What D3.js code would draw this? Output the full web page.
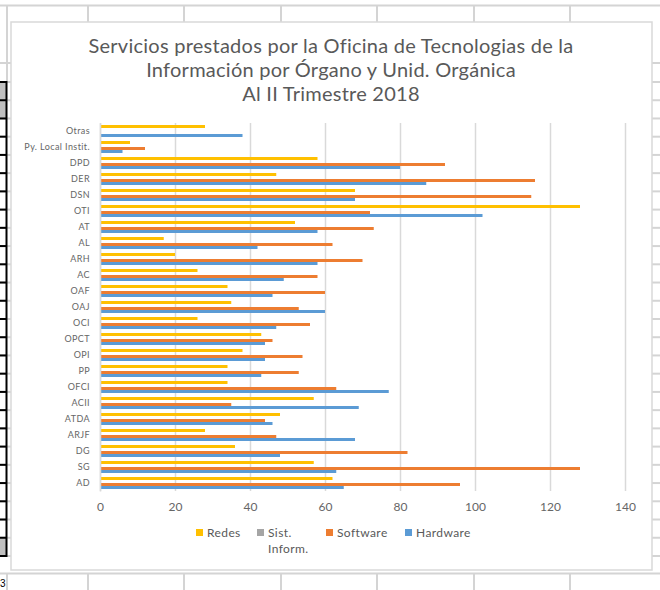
<!doctype html>
<html>
  <head>
    <meta charset="utf-8">
    <script src="https://d3js.org/d3.v7.min.js"></script>
    <style>
      body { margin: 0; background: #fff; }
      text { font-family: Lato, "Open Sans", sans-serif; }
    </style>
  </head>
  <body>
    <div id="graphic"></div>
    <script>

// Data (top to bottom as in the picture)
  var categories = ["Otras", "Py. Local Instit.", "DPD", "DER", "DSN", "OTI", "AT", "AL", "ARH", "AC",
                    "OAF", "OAJ", "OCI", "OPCT", "OPI", "PP", "OFCI", "ACII", "ATDA", "ARJF", "DG", "SG", "AD"];
  var redes    = [28, 8, 58, 47, 68, 128, 52, 17, 20, 26, 34, 35, 26, 43, 38, 34, 34, 57, 48, 28, 36, 57, 62];
  var sistInf  = [0, 0, 0, 0, 0, 0, 0, 0, 0, 0, 0, 0, 0, 0, 0, 0, 0, 0, 0, 0, 0, 0, 0];
  var software = [0, 12, 92, 116, 115, 72, 73, 62, 70, 58, 60, 53, 56, 46, 54, 53, 63, 35, 44, 47, 82, 128, 96];
  var hardware = [38, 6, 80, 87, 68, 102, 58, 42, 58, 49, 46, 60, 47, 44, 44, 43, 77, 69, 46, 68, 48, 63, 65];
  var seriesNames = ["Redes", "Sist. Inform.", "Software", "Hardware"];
  var seriesColors = ["#FFC000", "#A5A5A5", "#ED7D31", "#5B9BD5"];
  var xTicks = [0, 20, 40, 60, 80, 100, 120, 140];

  var seriesValues = [redes, sistInf, software, hardware];

  var W = 660, H = 590;
  var svg = d3.select("#graphic").append("svg")
    .attr("width", W)
    .attr("height", H);

  svg.append("rect").attr("width", W).attr("height", H).attr("fill", "#fff");

// Spreadsheet behind the chart
  var grid = "#d4d4d4";
  var rowYs = d3.range(27).map(i => 82 + i * 18.23);
  var colXs = [7, 88, 184, 281, 377, 474, 570];

  svg.append("line").attr("x1", 0).attr("x2", W).attr("y1", 5.5).attr("y2", 5.5)
    .attr("stroke", grid).attr("stroke-width", 2);
  svg.append("line").attr("x1", 0).attr("x2", W).attr("y1", 573.5).attr("y2", 573.5)
    .attr("stroke", grid).attr("stroke-width", 2);
  colXs.forEach(function(x) {
    svg.append("line").attr("x1", x).attr("x2", x).attr("y1", 5).attr("y2", 22)
      .attr("stroke", grid).attr("stroke-width", 2);
    svg.append("line").attr("x1", x).attr("x2", x).attr("y1", 573).attr("y2", H)
      .attr("stroke", grid).attr("stroke-width", 2);
  });
  svg.append("line").attr("x1", 7).attr("x2", 7).attr("y1", 5).attr("y2", 82)
    .attr("stroke", grid).attr("stroke-width", 2);

  [63].concat(rowYs).forEach(function(y) {
    svg.append("line").attr("x1", 652).attr("x2", W).attr("y1", y).attr("y2", y)
      .attr("stroke", grid).attr("stroke-width", 2);
    svg.append("line").attr("x1", 0).attr("x2", 11).attr("y1", y).attr("y2", y)
      .attr("stroke", grid).attr("stroke-width", 2);
  });
  svg.append("rect").attr("x", 0).attr("y", 82).attr("width", 6).attr("height", 36).attr("fill", "#c0c0c0");
  svg.append("rect").attr("x", 0).attr("y", 538).attr("width", 6).attr("height", 18).attr("fill", "#c0c0c0");
  rowYs.forEach(function(y) {
    svg.append("line").attr("x1", 0).attr("x2", 7).attr("y1", y).attr("y2", y)
      .attr("stroke", "#000").attr("stroke-width", 2);
  });
  svg.append("line").attr("x1", 6.5).attr("x2", 6.5).attr("y1", 81).attr("y2", 557)
    .attr("stroke", "#000").attr("stroke-width", 2);
  svg.append("text").attr("x", 0).attr("y", 587)
    .style("font-family", "Liberation Sans").style("font-size", "10px").attr("fill", "#000").text("3");

// Chart area
  svg.append("rect")
    .attr("x", 11).attr("y", 22).attr("width", 641).attr("height", 548)
    .attr("fill", "#fff").attr("stroke", "#d9d9d9").attr("stroke-width", 1.5);

  var margin = {top: 123, left: 100};
  var plotW = 525, plotH = 368;

  var xScale = d3.scaleLinear().domain([0, 140]).range([margin.left, margin.left + plotW]);
  var yScale = d3.scaleBand()
    .domain(categories)
    .range([margin.top, margin.top + plotH])
    .paddingInner(0.25)
    .paddingOuter(0.125);
  var ySub = d3.scaleBand()
    .domain(seriesNames)
    .range([0, yScale.bandwidth()]);

// Vertical gridlines
  var xAxis = d3.axisBottom(xScale)
    .tickValues(xTicks)
    .tickSize(-plotH)
    .tickPadding(11)
    .tickFormat(d3.format("d"));

  var gx = svg.append("g")
    .attr("transform", "translate(0," + (margin.top + plotH) + ")")
    .call(xAxis);
  gx.select(".domain").remove();
  gx.selectAll("line").attr("stroke", "#d9d9d9").attr("stroke-width", 1.5);
  gx.selectAll("text")
    .style("font-family", "Lato, sans-serif")
    .style("font-size", "12px")
    .attr("fill", "#666");

// Bars
  seriesNames.forEach(function(name, si) {
    svg.append("g")
      .selectAll("rect")
      .data(categories)
      .enter()
      .append("rect")
      .attr("x", xScale(0))
      .attr("y", d => yScale(d) + ySub(name))
      .attr("width", (d, i) => xScale(seriesValues[si][i]) - xScale(0))
      .attr("height", ySub.bandwidth())
      .attr("fill", seriesColors[si]);
  });

// Category axis
  var yAxis = d3.axisLeft(yScale).tickSize(0).tickPadding(10);
  var gy = svg.append("g")
    .attr("transform", "translate(" + xScale(0) + ",0)")
    .call(yAxis);
  gy.select(".domain").attr("stroke", "#d9d9d9").attr("stroke-width", 1.5);
  gy.selectAll("text")
    .style("font-family", "Lato, sans-serif")
    .style("font-size", "9px")
    .style("letter-spacing", "0.4px")
    .attr("fill", "#666");

// Title
  var titleLines = ["Servicios prestados por la Oficina de Tecnologias de la",
                    "Información por Órgano y Unid. Orgánica",
                    "Al II Trimestre 2018"];
  svg.append("g").selectAll("text")
    .data(titleLines)
    .enter()
    .append("text")
    .attr("x", 331)
    .attr("y", (d, i) => 53 + i * 24)
    .attr("text-anchor", "middle")
    .style("font-size", "20px")
    .style("letter-spacing", "0.25px")
    .attr("fill", "#595959")
    .text(d => d);

// Legend
  var legendX = [196, 257, 326, 405];
  var legend = svg.append("g");
  seriesNames.forEach(function(name, i) {
    legend.append("rect")
      .attr("x", legendX[i]).attr("y", 529)
      .attr("width", 7).attr("height", 7)
      .attr("fill", seriesColors[i]);
    var t = legend.append("text")
      .attr("x", legendX[i] + 11).attr("y", 537)
      .style("font-size", "12px")
      .style("letter-spacing", "0.4px")
      .attr("fill", "#595959");
    if (name === "Sist. Inform.") {
      t.append("tspan").attr("x", legendX[i] + 11).text("Sist.");
      t.append("tspan").attr("x", legendX[i] + 11).attr("dy", 16).text("Inform.");
    } else {
      t.text(name);
    }
  });

    </script>
  </body>
</html>
